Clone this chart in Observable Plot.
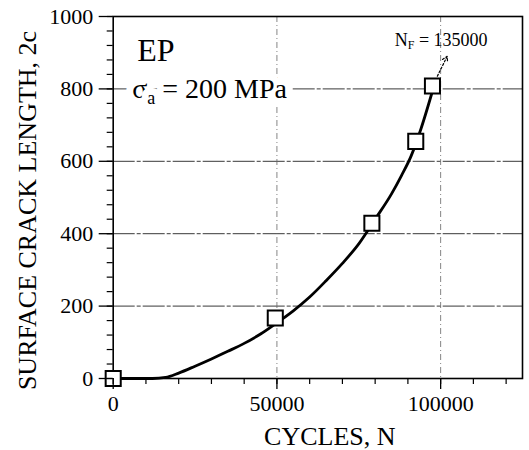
<!DOCTYPE html>
<html><head><meta charset="utf-8">
<script src="https://cdn.jsdelivr.net/npm/d3@7"></script>
<script src="https://cdn.jsdelivr.net/npm/@observablehq/plot@0.6"></script>
<style>body{margin:0;background:#fff;} svg text, svg tspan{font-family:"Liberation Serif","Times New Roman",Times,"DejaVu Serif",serif !important;}</style>
</head><body><div id="chart"></div>
<script>
// measured data points (cycles N, surface crack length 2c)
const pointCycles = [0, 49500, 79000, 92400, 97500];
const pointLength = [0, 167, 429, 655, 808];
// fitted curve
const curveCycles = [0, 12000, 16000, 20000, 25000, 30000, 35000, 40000, 45000, 50000, 55000, 60000, 65000, 70000, 75000, 80000, 85000, 88000, 91000, 94000, 97700];
const curveLength = [0, 0, 3, 15, 34, 54, 75, 97, 123, 154, 187, 225, 270, 318, 372, 440, 510, 560, 615, 690, 800];
// ticks & grid
const xMajorTicks = [0, 50000, 100000];
const xMinorTicks = [0, 10000, 20000, 30000, 40000, 50000, 60000, 70000, 80000, 90000, 100000, 110000, 120000];
const yMajorTicks = [0, 200, 400, 600, 800, 1000];
const yMinorTicks = [0, 40, 80, 120, 160, 200, 240, 280, 320, 360, 400, 440, 480, 520, 560, 600, 640, 680, 720, 760, 800, 840, 880, 920, 960, 1000];
const xGrid = [50000, 100000];
const yGrid = [200, 400, 600, 800];
// annotation
const arrowTip = [{x: 102000, y: 890}];
const xTitle = "CYCLES, N";
const yTitle = "SURFACE CRACK LENGTH, 2c";
const materialLabel = "EP";
const stressLabel = "σa = 200 MPa";
const lifeLabel = "NF = 135000";

const points = pointCycles.map((x, i) => ({x, y: pointLength[i]}));
const curve = curveCycles.map((x, i) => ({x, y: curveLength[i]}));
const last = points[points.length - 1];
const serif = "Liberation Serif, Times New Roman, serif";

const chart = Plot.plot({
  width: 529,
  height: 450,
  marginLeft: 112.7,
  marginRight: 7,
  marginTop: 16,
  marginBottom: 72,
  style: {fontFamily: serif, color: "black", background: "white"},
  x: {domain: [0, 125000]},
  y: {domain: [0, 1000]},
  marks: [
    Plot.ruleY(yGrid, {stroke: "#222", strokeWidth: 0.9, strokeDasharray: "22,2,4,2"}),
    Plot.ruleX(xGrid, {stroke: "#666", strokeWidth: 0.8, strokeDasharray: "6,3,1,3"}),
    Plot.text([stressLabel], {frameAnchor: "top-left", dx: 19, dy: 81, textAnchor: "start", lineAnchor: "bottom", fontSize: 28, fill: "black", stroke: "white", strokeWidth: 14}),
    Plot.text([materialLabel], {frameAnchor: "top-left", dx: 24, dy: 44, textAnchor: "start", lineAnchor: "bottom", fontSize: 32, fill: "black"}),
    Plot.text([lifeLabel], {frameAnchor: "top-left", dx: 328, dy: 29, textAnchor: "middle", lineAnchor: "bottom", fontSize: 18, fill: "black"}),
    Plot.frame({stroke: "black", strokeWidth: 1.6}),
    Plot.line(curve, {x: "x", y: "y", curve: "monotone-x", stroke: "black", strokeWidth: 2.8}),
    Plot.arrow(arrowTip, {x1: () => last.x, y1: () => last.y, x2: "x", y2: "y", insetStart: 11, stroke: "black", strokeWidth: 1.2, strokeDasharray: "2,2", headLength: 7}),
    Plot.dot(points, {x: "x", y: "y", symbol: "square", r: 8.5, fill: "white", stroke: "black", strokeWidth: 2}),
    Plot.axisY(yMajorTicks, {tickSize: 14, tickPadding: 6, fontSize: 22, strokeWidth: 1.3, label: null, tickFormat: d => String(d)}),
    Plot.axisY(yMinorTicks, {tickSize: 6, text: null, strokeWidth: 1.2, label: null}),
    Plot.axisX(xMajorTicks, {tickSize: 11, tickPadding: 6, fontSize: 22, strokeWidth: 1.3, label: null, tickFormat: d => String(d)}),
    Plot.axisX(xMinorTicks, {tickSize: 6, text: null, strokeWidth: 1.2, label: null}),
    Plot.text([xTitle], {frameAnchor: "bottom", dx: 12, dy: 58, textAnchor: "middle", lineAnchor: "middle", fontSize: 26, fill: "black"}),
    Plot.text([yTitle], {frameAnchor: "left", dx: -86, dy: 13, rotate: -90, textAnchor: "middle", lineAnchor: "middle", fontSize: 26, fill: "black"})
  ]
});
document.getElementById("chart").appendChild(chart);

// subscripts
chart.querySelectorAll("text").forEach(t => {
  if (t.textContent === stressLabel) {
    t.innerHTML = 'σ<tspan dy="6" font-size="18">a</tspan><tspan dy="-6"> = 200 MPa</tspan>';
  } else if (t.textContent === lifeLabel) {
    t.innerHTML = 'N<tspan dy="3" font-size="12">F</tspan><tspan dy="-3"> = 135000</tspan>';
  }
});
</script>
</body></html>
